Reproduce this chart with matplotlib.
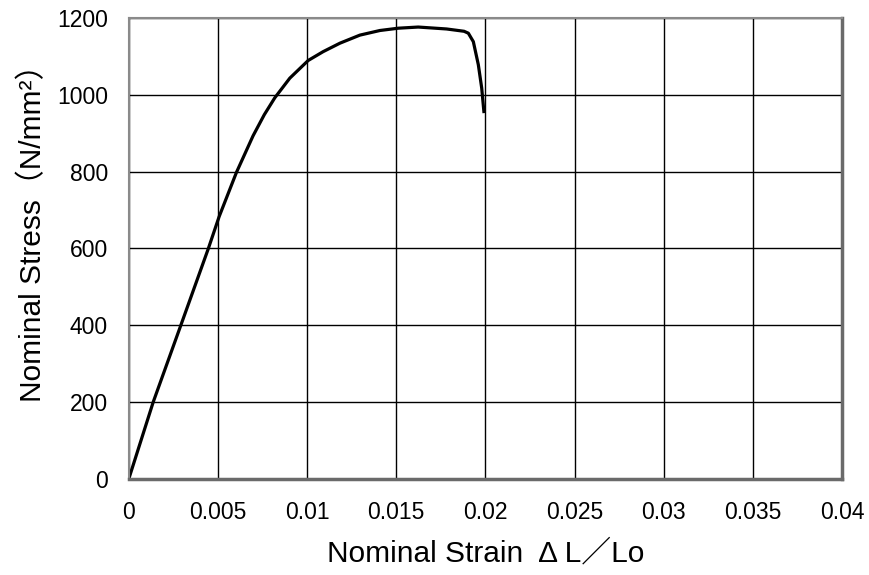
import matplotlib
matplotlib.use("Agg")
import matplotlib.pyplot as plt

# stress-strain curve
strain = [0.0, 0.00137, 0.00292, 0.00445, 0.00507, 0.00604, 0.00697, 0.00760,
          0.00819, 0.00903, 0.01006, 0.01090, 0.01184, 0.01296, 0.01408,
          0.01511, 0.01623, 0.01782, 0.01880, 0.01904, 0.01932, 0.01960,
          0.01979, 0.01992]
stress = [0, 200, 400, 598, 683, 798, 893, 948,
          992, 1043, 1089, 1112, 1134, 1155, 1167,
          1173, 1176, 1171, 1165, 1160, 1138, 1078,
          1017, 952]

x_ticks = [0, 0.005, 0.01, 0.015, 0.02, 0.025, 0.03, 0.035, 0.04]
x_labels = ["0", "0.005", "0.01", "0.015", "0.02", "0.025", "0.03", "0.035", "0.04"]
y_ticks = [0, 200, 400, 600, 800, 1000, 1200]

label_font = ["Liberation Sans", "Noto Sans CJK JP"]

fig = plt.figure(figsize=(8.7, 5.75), dpi=100)
ax = fig.add_axes([0.148, 0.167, 0.820, 0.802])

ax.plot(strain, stress, color="black", linewidth=2.3,
        solid_joinstyle="round", solid_capstyle="butt")

ax.set_xlim(0, 0.04)
ax.set_ylim(0, 1200)
ax.set_xticks(x_ticks)
ax.set_xticklabels(x_labels)
ax.set_yticks(y_ticks)
ax.grid(True, color="black", linewidth=1.0)
ax.set_axisbelow(True)
ax.tick_params(length=0, labelsize=16.5)
ax.tick_params(axis="y", pad=15)
ax.tick_params(axis="x", pad=16)
for lbl in ax.get_xticklabels() + ax.get_yticklabels():
    lbl.set_fontfamily("Liberation Sans")

for side in ["left", "top"]:
    ax.spines[side].set_color("#8a8a8a")
    ax.spines[side].set_linewidth(1.5)
for side in ["right", "bottom"]:
    ax.spines[side].set_color("#6a6a6a")
    ax.spines[side].set_linewidth(2.5)

ax.set_xlabel("Nominal Strain  Δ L／Lo", family=label_font, fontsize=21.5, labelpad=11)
ax.set_ylabel("Nominal Stress（N/mm²）", family=label_font, fontsize=21.5)
ax.yaxis.set_label_coords(-0.115, 0.55)

fig.savefig("out.png", dpi=100)
